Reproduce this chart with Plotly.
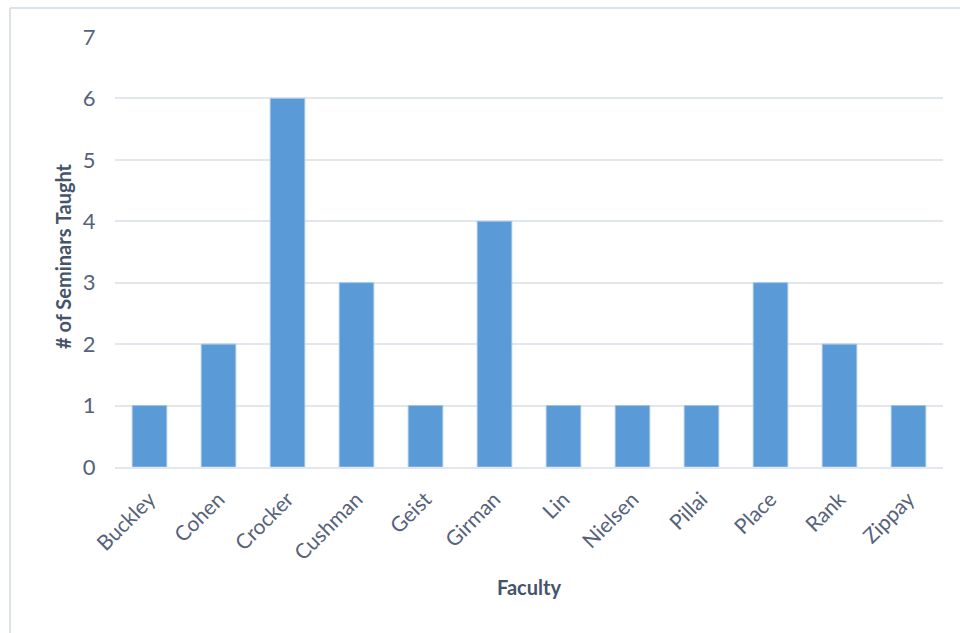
import plotly.graph_objects as go

faculty = ["Buckley", "Cohen", "Crocker", "Cushman", "Geist", "Girman",
           "Lin", "Nielsen", "Pillai", "Place", "Rank", "Zippay"]
seminars = [1, 2, 6, 3, 1, 4, 1, 1, 1, 3, 2, 1]
y_ticks = [0, 1, 2, 3, 4, 5, 6, 7]

W, H = 960, 633
ML, MR, MT, MB = 115, 17, 37, 166
pw, ph = W - ML - MR, H - MT - MB

tick_color = "#56627a"
title_color = "#44546A"
grid_color = "#E2E7EE"
font_family = "Lato, 'Open Sans', sans-serif"

fig = go.Figure()
fig.add_trace(go.Bar(
    x=faculty, y=seminars,
    marker=dict(color="#5A9AD6", line=dict(color="#9DC3E6", width=1)),
    hoverinfo="x+y",
))

fig.update_layout(
    width=W, height=H,
    margin=dict(l=ML, r=MR, t=MT, b=MB),
    paper_bgcolor="white", plot_bgcolor="white",
    bargap=0.5,
    showlegend=False,
    font=dict(family=font_family, color=tick_color),
    xaxis=dict(
        tickangle=-45,
        tickfont=dict(size=21, color=tick_color, family=font_family),
        ticks="outside", ticklen=10, tickcolor="rgba(0,0,0,0)",
        showline=True, linecolor=grid_color, linewidth=1.5,
        showgrid=False, fixedrange=True,
    ),
    yaxis=dict(
        range=[0, 7], tickvals=y_ticks,
        tickfont=dict(size=22, color=tick_color, family=font_family),
        ticks="outside", ticklen=14, tickcolor="rgba(0,0,0,0)",
        showgrid=True, gridcolor=grid_color, gridwidth=1.5,
        zeroline=False, showline=False, fixedrange=True,
    ),
    annotations=[
        dict(text="<b>Faculty</b>", x=0.5, y=0, xref="paper", yref="paper",
             xanchor="center", yanchor="middle", yshift=-120, showarrow=False,
             font=dict(size=20, color=title_color, family=font_family)),
        dict(text="<b># of Seminars Taught</b>", x=0, y=0.5, xref="paper", yref="paper",
             xanchor="center", yanchor="middle", xshift=-52, yshift=-4, textangle=-90,
             showarrow=False,
             font=dict(size=20, color=title_color, family=font_family)),
    ],
    shapes=[
        dict(type="line", xref="paper", yref="paper",
             x0=(10 - ML) / pw, x1=(W + 5 - ML) / pw,
             y0=(H - MB - 8) / ph, y1=(H - MB - 8) / ph,
             line=dict(color="#DCE2EA", width=2)),
        dict(type="line", xref="paper", yref="paper",
             x0=(10 - ML) / pw, x1=(10 - ML) / pw,
             y0=(H - MB - 8) / ph, y1=-(MB + 5) / ph,
             line=dict(color="#DCE2EA", width=2)),
    ],
)

fig.write_html("out.html")
